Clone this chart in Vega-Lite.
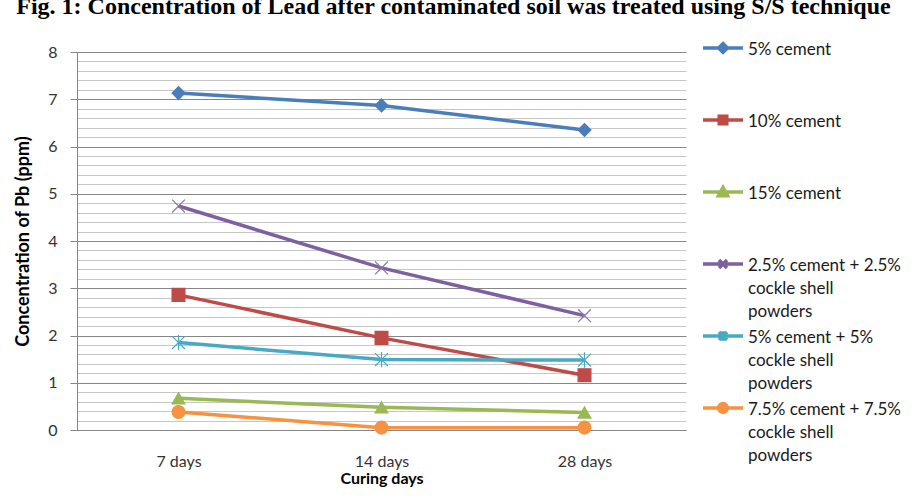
{
  "$schema": "https://vega.github.io/schema/vega-lite/v6.json",
  "width": 609,
  "height": 378,
  "autosize": {"type": "none"},
  "padding": {"left": 77, "top": 52, "right": 233, "bottom": 68},
  "background": "white",
  "title": {
    "text": "Fig. 1: Concentration of Lead after contaminated soil was treated using S/S technique",
    "font": "Liberation Serif",
    "fontSize": 24,
    "fontWeight": "bold",
    "color": "#000000",
    "anchor": "middle",
    "dx": 72,
    "offset": 17.5
  },
  "config": {"view": {"stroke": null}},
  "data": {
    "values": [
      {"series": "5% cement", "curing": "7 days", "pb": 7.13},
      {"series": "5% cement", "curing": "14 days", "pb": 6.87},
      {"series": "5% cement", "curing": "28 days", "pb": 6.35},
      {"series": "10% cement", "curing": "7 days", "pb": 2.86},
      {"series": "10% cement", "curing": "14 days", "pb": 1.95},
      {"series": "10% cement", "curing": "28 days", "pb": 1.16},
      {"series": "15% cement", "curing": "7 days", "pb": 0.67},
      {"series": "15% cement", "curing": "14 days", "pb": 0.48},
      {"series": "15% cement", "curing": "28 days", "pb": 0.37},
      {"series": "2.5% cement + 2.5% cockle shell powders", "curing": "7 days", "pb": 4.74},
      {"series": "2.5% cement + 2.5% cockle shell powders", "curing": "14 days", "pb": 3.43},
      {"series": "2.5% cement + 2.5% cockle shell powders", "curing": "28 days", "pb": 2.42},
      {"series": "5% cement + 5% cockle shell powders", "curing": "7 days", "pb": 1.85},
      {"series": "5% cement + 5% cockle shell powders", "curing": "14 days", "pb": 1.49},
      {"series": "5% cement + 5% cockle shell powders", "curing": "28 days", "pb": 1.48},
      {"series": "7.5% cement + 7.5% cockle shell powders", "curing": "7 days", "pb": 0.38},
      {"series": "7.5% cement + 7.5% cockle shell powders", "curing": "14 days", "pb": 0.05},
      {"series": "7.5% cement + 7.5% cockle shell powders", "curing": "28 days", "pb": 0.05}
    ]
  },
  "encoding": {
    "x": {
      "field": "curing",
      "type": "nominal",
      "sort": ["7 days", "14 days", "28 days"],
      "title": "Curing days",
      "axis": {
        "labelAngle": 0,
        "ticks": false,
        "grid": false,
        "domainColor": "#868686",
        "labelFont": "Lato",
        "labelFontSize": 16,
        "labelColor": "#333333",
        "labelPadding": 23,
        "titleFont": "Lato",
        "titleFontSize": 16,
        "titleFontWeight": "bold",
        "titleColor": "#000000",
        "titlePadding": 1
      }
    },
    "y": {
      "field": "pb",
      "type": "quantitative",
      "title": "Concentration of Pb  (ppm)",
      "scale": {"domain": [0, 8], "nice": false},
      "axis": {
        "values": [0, 0.2, 0.4, 0.6, 0.8, 1, 1.2, 1.4, 1.6, 1.8, 2, 2.2, 2.4, 2.6, 2.8, 3, 3.2, 3.4, 3.6, 3.8, 4, 4.2, 4.4, 4.6, 4.8, 5, 5.2, 5.4, 5.6, 5.8, 6, 6.2, 6.4, 6.6, 6.8, 7, 7.2, 7.4, 7.6, 7.8, 8],
        "labelExpr": "abs(datum.value - round(datum.value)) < 0.001 ? '' + round(datum.value) : ''",
        "labelOverlap": false,
        "grid": true,
        "gridColor": {"condition": {"test": "abs(datum.value - round(datum.value)) < 0.001", "value": "#868686"}, "value": "#c6c6c6"},
        "tickColor": "#868686",
        "tickSize": 7,
        "tickOpacity": {"condition": {"test": "abs(datum.value - round(datum.value)) < 0.001", "value": 1}, "value": 0},
        "domainColor": "#868686",
        "labelFont": "Lato",
        "labelFontSize": 16,
        "labelColor": "#333333",
        "labelPadding": 13,
        "titleFont": "Lato",
        "titleFontSize": 18,
        "titleFontWeight": "bold",
        "titleColor": "#000000",
        "titlePadding": 15
      }
    }
  },
  "layer": [
    {
      "mark": {"type": "line", "strokeWidth": 3.5},
      "encoding": {
        "color": {
          "field": "series",
          "type": "nominal",
          "scale": {
            "domain": ["5% cement", "10% cement", "15% cement", "2.5% cement + 2.5% cockle shell powders", "5% cement + 5% cockle shell powders", "7.5% cement + 7.5% cockle shell powders"],
            "range": ["#4A7EBB", "#BE4B48", "#98B954", "#7D60A0", "#46AAC5", "#F69240"]
          },
          "legend": {
            "title": null,
            "orient": "none",
            "legendX": 624,
            "legendY": -16,
            "padding": 0,
            "symbolSize": 1600,
            "symbolStrokeWidth": 3.5,
            "labelFont": "Lato",
            "labelFontSize": 17,
            "labelColor": "#1a1a1a",
            "labelOffset": 3,
            "labelLimit": 300,
            "labelBaseline": "alphabetic",
            "clipHeight": 71.6,
            "rowPadding": 0,
            "labelExpr": "datum.value == '2.5% cement + 2.5% cockle shell powders' ? ['2.5% cement + 2.5%', 'cockle shell', 'powders'] : datum.value == '5% cement + 5% cockle shell powders' ? ['5% cement + 5%', 'cockle shell', 'powders'] : datum.value == '7.5% cement + 7.5% cockle shell powders' ? ['7.5% cement + 7.5%', 'cockle shell', 'powders'] : datum.label",
            "encode": {
              "symbols": {
                "update": {
                  "shape": {"signal": "['M-1,-1.19H1M0,-1.41L0.22,-1.19L0,-0.97L-0.22,-1.19Z', 'M-1,-1.19H1M-0.19,-1.38H0.19V-1.0H-0.19Z', 'M-1,-1.19H1M0,-1.42L0.23,-1.0H-0.23Z', 'M-1,-1.19H1M-0.2,-1.39L0.2,-0.99M-0.2,-0.99L0.2,-1.39', 'M-1,-1.19H1M-0.2,-1.39L0.2,-0.99M-0.2,-0.99L0.2,-1.39M0,-1.43V-0.95', 'M-1,-1.19H1M0.22,-1.19A0.22,0.22,0,1,1,-0.22,-1.19A0.22,0.22,0,1,1,0.22,-1.19Z'][indexof(['5% cement', '10% cement', '15% cement', '2.5% cement + 2.5% cockle shell powders', '5% cement + 5% cockle shell powders', '7.5% cement + 7.5% cockle shell powders'], datum.value)]"},
                  "fill": {"signal": "scale('color', datum.value)"},
                  "stroke": {"signal": "scale('color', datum.value)"},
                  "strokeWidth": {"value": 3.5},
                  "opacity": {"value": 1}
                }
              },
              "labels": {
                "update": {
                  "dy": {"value": -16.8},
                  "lineHeight": {"value": 23}
                }
              }
            }
          }
        }
      }
    },
    {
      "mark": {"type": "point", "opacity": 1, "strokeWidth": 1.2, "size": 165},
      "encoding": {
        "shape": {
          "condition": [
            {"test": "datum.series == '5% cement'", "value": "diamond"},
            {"test": "datum.series == '10% cement'", "value": "square"},
            {"test": "datum.series == '15% cement'", "value": "triangle-up"},
            {"test": "datum.series == '2.5% cement + 2.5% cockle shell powders'", "value": "M-1,-1L1,1M-1,1L1,-1"},
            {"test": "datum.series == '5% cement + 5% cockle shell powders'", "value": "M-1,-1L1,1M-1,1L1,-1M0,-1.2L0,1.2"}
          ],
          "value": "circle"
        },
        "fill": {
          "condition": [
            {"test": "datum.series == '5% cement'", "value": "#4A7EBB"},
            {"test": "datum.series == '10% cement'", "value": "#BE4B48"},
            {"test": "datum.series == '15% cement'", "value": "#98B954"},
            {"test": "datum.series == '2.5% cement + 2.5% cockle shell powders'", "value": "#7D60A0"},
            {"test": "datum.series == '5% cement + 5% cockle shell powders'", "value": "#46AAC5"}
          ],
          "value": "#F69240"
        },
        "stroke": {
          "condition": [
            {"test": "datum.series == '5% cement'", "value": "#4A7EBB"},
            {"test": "datum.series == '10% cement'", "value": "#BE4B48"},
            {"test": "datum.series == '15% cement'", "value": "#98B954"},
            {"test": "datum.series == '2.5% cement + 2.5% cockle shell powders'", "value": "#8A78AE"},
            {"test": "datum.series == '5% cement + 5% cockle shell powders'", "value": "#46AAC5"}
          ],
          "value": "#F69240"
        }
      }
    }
  ]
}
